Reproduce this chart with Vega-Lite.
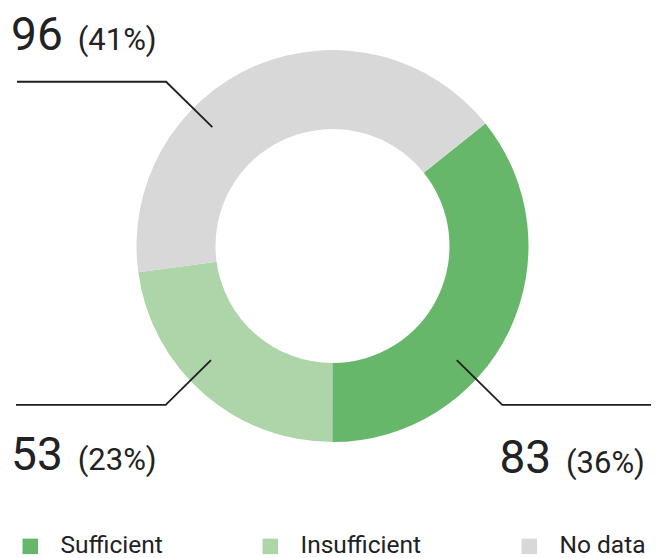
{
  "$schema": "https://vega.github.io/schema/vega-lite/v6.json",
  "width": 665,
  "height": 492,
  "padding": 0,
  "autosize": {"type": "pad"},
  "background": "white",
  "config": {"view": {"stroke": null}, "font": "Roboto"},
  "datasets": {
    "main": [
      {"category": "Sufficient", "value": 83, "rank": 1},
      {"category": "Insufficient", "value": 53, "rank": 2},
      {"category": "No data", "value": 96, "rank": 3}
    ],
    "labels": [
      {"num": "96", "pct": "(41%)", "x": -1.64, "px": -1.30, "y": 1.0},
      {"num": "53", "pct": "(23%)", "x": -1.64, "px": -1.30, "y": -1.143},
      {"num": "83", "pct": "(36%)", "x": 0.852, "px": 1.191, "y": -1.156}
    ],
    "leaders": [
      {"seg": "a", "i": 1, "x": -1.610, "y": 0.838},
      {"seg": "a", "i": 2, "x": -0.849, "y": 0.838},
      {"seg": "a", "i": 3, "x": -0.613, "y": 0.606},
      {"seg": "b", "i": 1, "x": -1.615, "y": -0.811},
      {"seg": "b", "i": 2, "x": -0.851, "y": -0.811},
      {"seg": "b", "i": 3, "x": -0.620, "y": -0.582},
      {"seg": "c", "i": 1, "x": 1.625, "y": -0.811},
      {"seg": "c", "i": 2, "x": 0.866, "y": -0.811},
      {"seg": "c", "i": 3, "x": 0.634, "y": -0.582}
    ]
  },
  "layer": [
    {
      "data": {"name": "main"},
      "mark": {"type": "arc", "innerRadius": 117, "outerRadius": 196},
      "encoding": {
        "theta": {"field": "value", "type": "quantitative", "stack": true, "scale": {"range": [0.895, 7.178]}},
        "color": {
          "field": "category",
          "type": "nominal",
          "scale": {"domain": ["Sufficient", "Insufficient", "No data"], "range": ["#67b76b", "#add5a9", "#d8d8d8"]},
          "legend": {
            "orient": "none",
            "legendX": 18,
            "legendY": 534,
            "direction": "horizontal",
            "title": null,
            "symbolType": "square",
            "symbolSize": 240,
            "symbolStrokeWidth": 0,
            "labelFontSize": 24.5,
            "labelFont": "Roboto",
            "labelColor": "#222222",
            "labelOffset": 18,
            "columnPadding": 95,
            "labelLimit": 300
          }
        },
        "order": {"field": "rank", "type": "quantitative"}
      }
    },
    {
      "data": {"name": "leaders"},
      "mark": {"type": "line", "color": "#1f1f1f", "strokeWidth": 1.8},
      "encoding": {
        "x": {"field": "x", "type": "quantitative", "scale": {"domain": [-1.6964, 1.6964], "nice": false, "zero": false}, "axis": null},
        "y": {"field": "y", "type": "quantitative", "scale": {"domain": [-1.2551, 1.2551], "nice": false, "zero": false}, "axis": null},
        "detail": {"field": "seg"},
        "order": {"field": "i", "type": "quantitative"}
      }
    },
    {
      "data": {"name": "labels"},
      "mark": {"type": "text", "align": "left", "baseline": "alphabetic", "fontSize": 46, "font": "Roboto", "color": "#222222"},
      "encoding": {
        "x": {"field": "x", "type": "quantitative", "scale": {"domain": [-1.6964, 1.6964], "nice": false, "zero": false}, "axis": null},
        "y": {"field": "y", "type": "quantitative", "scale": {"domain": [-1.2551, 1.2551], "nice": false, "zero": false}, "axis": null},
        "text": {"field": "num"}
      }
    },
    {
      "data": {"name": "labels"},
      "mark": {"type": "text", "align": "left", "baseline": "alphabetic", "fontSize": 31, "font": "Roboto", "color": "#222222"},
      "encoding": {
        "x": {"field": "px", "type": "quantitative", "scale": {"domain": [-1.6964, 1.6964], "nice": false, "zero": false}, "axis": null},
        "y": {"field": "y", "type": "quantitative", "scale": {"domain": [-1.2551, 1.2551], "nice": false, "zero": false}, "axis": null},
        "text": {"field": "pct"}
      }
    }
  ]
}
